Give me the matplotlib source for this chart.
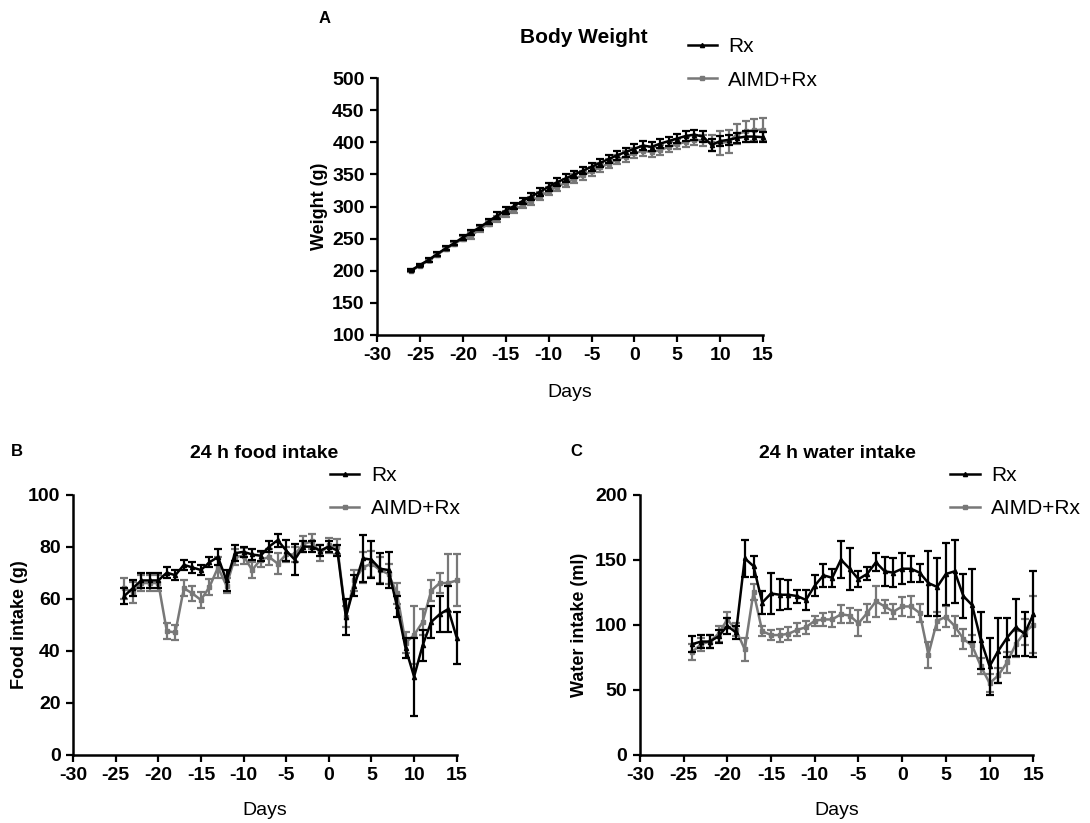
import matplotlib
matplotlib.use("Agg")
import matplotlib.pyplot as plt
from matplotlib.font_manager import FontProperties
from matplotlib.lines import Line2D

# ---- data -------------------------------------------------------------
weight_days = list(range(-26, 16))
weight_rx = [201, 209, 217, 226, 235, 243, 252, 260, 268, 277, 286, 294, 301, 309,
             316, 323, 331, 338, 344, 350, 356, 362, 368, 374, 380, 385, 390, 395,
             393, 398, 402, 406, 410, 412, 409, 396, 402, 404, 407, 409, 409, 408]
weight_rx_err = [2, 2, 3, 3, 3, 3, 4, 4, 4, 4, 5, 5, 5, 5, 5, 6, 6, 6, 6, 6, 6,
                 6, 6, 6, 7, 7, 7, 7, 7, 7, 7, 7, 8, 8, 8, 10, 8, 8, 8, 8, 8, 8]
weight_aimd = [200, 208, 216, 225, 234, 242, 250, 255, 265, 273, 281, 288, 295, 302,
               309, 316, 324, 331, 337, 343, 349, 355, 361, 367, 373, 378, 383, 387,
               385, 388, 393, 397, 401, 404, 403, 399, 399, 401, 413, 417, 419, 420]
weight_aimd_err = [2, 2, 3, 3, 3, 3, 4, 5, 4, 4, 5, 5, 5, 5, 6, 6, 6, 6, 6, 7, 7,
                   7, 7, 7, 7, 8, 8, 8, 8, 8, 8, 8, 8, 8, 8, 12, 18, 18, 16, 16, 17, 18]

intake_days = list(range(-24, 16))
food_rx = [61, 64, 67, 67, 67, 70, 69, 73, 72, 71, 74, 76, 67, 77.5, 78, 77, 76.5,
           80, 82.5, 78.5, 75, 80, 80, 78.5, 80, 78.5, 53, 65, 75.5, 75, 71.5, 71,
           57, 41, 30, 42, 51, 54, 56, 45]
food_rx_err = [3, 3, 3, 3, 3, 2, 2, 2, 2, 2, 2, 3, 4, 3, 2, 2, 2, 2, 2.5, 4, 6, 2,
               2, 2, 2, 2, 7, 4, 9, 7, 6, 7, 4, 4, 15, 6, 6, 7, 9, 10]
food_aimd = [64, 62.5, 66, 66, 66, 47.5, 47, 64, 62, 59.5, 64.5, 72, 65, 76, 76.5,
             71, 75, 76, 73.5, 77, 77, 81, 82, 77.5, 80.5, 80, 53, 67, 72, 73.5, 71,
             69.5, 62, 43, 46, 51, 63, 66, 66, 67]
food_aimd_err = [4, 4, 3, 3, 3, 3, 3, 3, 3, 3, 3, 4, 3, 3, 3, 3, 3, 3, 4, 3, 3, 3,
                 3, 3, 3, 3, 4, 4, 6, 5, 5, 4, 4, 4, 11, 5, 4, 4, 11, 10]

water_rx = [85, 87, 87, 91, 99, 94, 151, 145, 117, 124, 123, 123, 122, 119, 130,
            138, 136, 150, 143, 135, 139, 148, 141, 140, 143, 143, 140, 132, 129,
            139, 141, 122, 115, 88, 68, 80, 90, 98, 93, 108]
water_rx_err = [6, 5, 5, 5, 6, 5, 14, 8, 9, 16, 12, 11, 5, 8, 8, 9, 7, 14, 16, 6,
                5, 7, 11, 11, 12, 10, 7, 25, 22, 24, 24, 17, 28, 22, 22, 25, 15, 22,
                17, 33]
water_aimd = [79, 85, 87, 93, 104, 96, 81, 125, 95, 92, 92, 93, 96, 98, 103, 104,
              104, 108, 107, 101, 109, 118, 114, 110, 114, 114, 109, 77, 103, 106,
              99, 89, 84, 68, 55, 61, 71, 85, 94, 100]
water_aimd_err = [6, 5, 5, 6, 6, 5, 9, 6, 4, 4, 5, 5, 5, 5, 4, 5, 6, 7, 6, 10, 7,
                  12, 5, 6, 7, 8, 7, 10, 7, 8, 8, 8, 8, 6, 7, 6, 8, 10, 10, 22]

series_names = ["Rx", "AIMD+Rx"]
series_colors = ["#000000", "#787878"]
series_markers = ["^", "s"]
day_ticks = list(range(-30, 20, 5))

# ---- styling ----------------------------------------------------------
plt.rcParams["font.family"] = ["Liberation Sans", "DejaVu Sans"]
plt.rcParams["axes.unicode_minus"] = False

WIDE = ["Liberation Sans", "DejaVu Sans"]


def style_axes(ax, yticks, ylim, label_x, ylabel, days_y):
    ax.set_xlim(-30, 15)
    ax.set_ylim(*ylim)
    ax.set_xticks(day_ticks)
    ax.set_yticks(yticks)
    for s in ("top", "right"):
        ax.spines[s].set_visible(False)
    for s in ("left", "bottom"):
        ax.spines[s].set_linewidth(1.8)
    ax.tick_params(direction="out", length=5, width=1.6, pad=4)
    fp = FontProperties(family=WIDE, weight="bold", size=14)
    for lab in ax.get_xticklabels() + ax.get_yticklabels():
        lab.set_fontproperties(fp)
    ax.set_xlabel("Days", fontsize=14)
    ax.xaxis.set_label_coords(0.5, days_y)
    ax.set_ylabel(ylabel, fontsize=13, fontweight="bold")
    ax.yaxis.set_label_coords(label_x, 0.5)


def draw_series(ax, days, vals, errs, idx):
    ax.errorbar(days, vals, yerr=errs, color=series_colors[idx],
                marker=series_markers[idx], markersize=3, linewidth=1.8,
                elinewidth=1.6, capsize=3, capthick=1.6,
                zorder=3 if idx == 0 else 2, clip_on=False)


def draw_legend(ax, anchor):
    handles = [Line2D([], [], color=series_colors[i], marker=series_markers[i],
                      markersize=3, linewidth=1.8) for i in range(2)]
    ax.legend(handles, series_names, loc="upper left", bbox_to_anchor=anchor,
              bbox_transform=ax.figure.transFigure, frameon=False, fontsize=15,
              handlelength=1.4, handletextpad=0.55, labelspacing=0.7,
              borderpad=0, borderaxespad=0)


fig = plt.figure(figsize=(10.9, 8.23), dpi=100)

# A: body weight
axA = fig.add_axes([0.346, 0.593, 0.354, 0.312])
draw_series(axA, weight_days, weight_aimd, weight_aimd_err, 1)
draw_series(axA, weight_days, weight_rx, weight_rx_err, 0)
style_axes(axA, list(range(100, 550, 50)), (100, 500), -0.128, "Weight (g)", -0.19)
fig.text(0.536, 0.954, "Body Weight", fontsize=15, fontweight="bold",
         ha="center", va="center")
draw_legend(axA, (0.631, 0.955))
fig.text(0.292, 0.978, "A", fontsize=12, fontweight="bold", ha="left", va="center")

# B: food intake
axB = fig.add_axes([0.067, 0.083, 0.352, 0.316])
draw_series(axB, intake_days, food_aimd, food_aimd_err, 1)
draw_series(axB, intake_days, food_rx, food_rx_err, 0)
style_axes(axB, list(range(0, 120, 20)), (0, 100), -0.118, "Food intake (g)", -0.18)
fig.text(0.242, 0.449, "24 h food intake", fontsize=14, fontweight="bold",
         ha="center", va="center")
draw_legend(axB, (0.303, 0.434))
fig.text(0.010, 0.452, "B", fontsize=12, fontweight="bold", ha="left", va="center")

# C: water intake
axC = fig.add_axes([0.587, 0.083, 0.361, 0.316])
draw_series(axC, intake_days, water_aimd, water_aimd_err, 1)
draw_series(axC, intake_days, water_rx, water_rx_err, 0)
style_axes(axC, list(range(0, 250, 50)), (0, 200), -0.132, "Water intake (ml)", -0.18)
fig.text(0.768, 0.449, "24 h water intake", fontsize=14, fontweight="bold",
         ha="center", va="center")
draw_legend(axC, (0.872, 0.434))
fig.text(0.523, 0.452, "C", fontsize=12, fontweight="bold", ha="left", va="center")

fig.savefig("out.png", dpi=100, facecolor="white")
